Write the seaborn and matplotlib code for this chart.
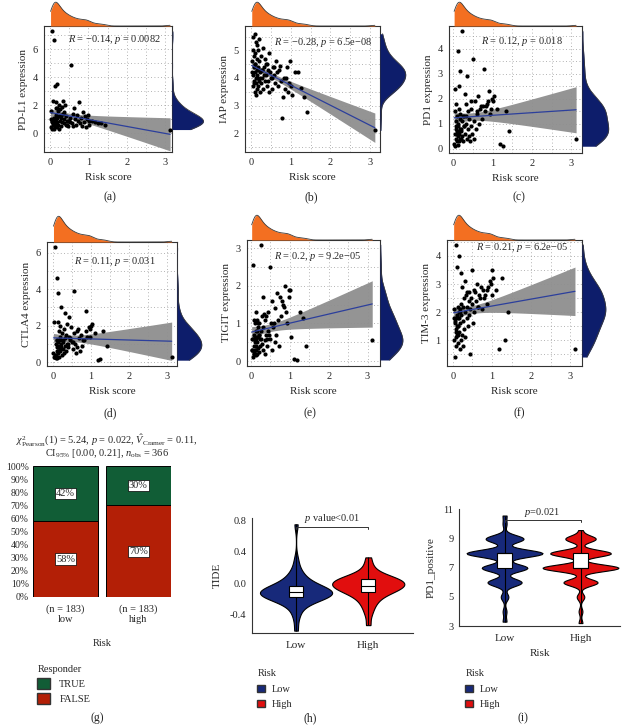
import numpy as np
import pandas as pd
import matplotlib
matplotlib.use("Agg")
import matplotlib.pyplot as plt
from matplotlib.patches import Patch
from matplotlib.ticker import MultipleLocator
import seaborn as sns

# ---- data ----
risk_score = [0.02, 0.03, 0.04, 0.05, 0.05, 0.06, 0.07, 0.07, 0.08, 0.08,
              0.09, 0.09, 0.10, 0.10, 0.11, 0.11, 0.12, 0.12, 0.13, 0.13,
              0.14, 0.14, 0.15, 0.15, 0.16, 0.16, 0.17, 0.18, 0.18, 0.19,
              0.20, 0.20, 0.21, 0.22, 0.23, 0.24, 0.25, 0.26, 0.27, 0.28,
              0.29, 0.30, 0.31, 0.32, 0.33, 0.35, 0.36, 0.37, 0.38, 0.40,
              0.41, 0.42, 0.44, 0.45, 0.46, 0.48, 0.50, 0.52, 0.53, 0.55,
              0.57, 0.59, 0.61, 0.63, 0.65, 0.67, 0.70, 0.72, 0.75, 0.78,
              0.80, 0.83, 0.86, 0.88, 0.91, 0.94, 0.97, 0.99, 1.01, 1.03,
              1.10, 1.18, 1.25, 1.33, 1.42, 3.12]

pdl1 = [1.0, 0.4, 1.6, 0.9, 0.3, 0.8, 7.3, 1.0, 0.7, 0.6,
        0.8, 2.3, 0.8, 6.7, 0.9, 0.3, 1.1, 0.6, 0.7, 0.5,
        3.4, 1.0, 0.5, 2.2, 1.3, 0.9, 1.8, 0.4, 1.8, 1.1,
        0.8, 3.5, 1.6, 0.6, 2.0, 1.2, 0.3, 1.7, 0.9, 1.3,
        1.1, 0.5, 1.9, 0.8, 1.4, 2.3, 0.7, 1.0, 1.5, 2.0,
        1.2, 0.6, 0.6, 0.9, 0.9, 0.5, 0.9, 0.8, 1.1, 4.9,
        0.7, 1.4, 0.5, 1.8, 1.0, 0.6, 1.3, 0.9, 2.2, 0.7,
        1.1, 0.5, 1.5, 0.8, 1.2, 0.4, 1.0, 1.3, 0.6, 0.9,
        0.9, 0.8, 0.7, 0.75, 0.6, 0.25]

iap = [4.6, 4.2, 5.5, 4.1, 3.7, 5.0, 4.4, 3.8, 4.8, 3.9,
       5.6, 3.5, 4.2, 4.9, 4.5, 4.5, 3.8, 5.3, 4.0, 3.4,
       4.7, 3.6, 5.2, 4.3, 4.0, 4.1, 3.7, 5.0, 4.4, 4.3,
       4.6, 3.9, 5.4, 3.5, 4.2, 4.0, 4.8, 3.8, 4.3, 4.3,
       4.0, 5.1, 3.6, 4.4, 4.1, 3.9, 4.7, 4.5, 4.1, 3.7,
       4.5, 4.3, 3.9, 4.9, 3.5, 4.2, 4.0, 4.0, 3.6, 4.4,
       4.4, 4.1, 3.8, 4.6, 4.2, 3.7, 4.3, 4.45, 3.9, 2.55,
       3.3, 4.0, 3.6, 4.0, 4.4, 3.5, 3.8, 4.6, 3.7, 3.4,
       4.2, 4.2, 3.65, 3.3, 2.75, 2.1]

pd1 = [0.2, 1.5, 0.6, 2.4, 0.1, 1.1, 1.8, 0.4, 0.8, 0.9,
       0.3, 0.6, 0.7, 1.3, 0.15, 1.0, 0.65, 0.5, 3.9, 0.9,
       1.6, 0.3, 2.5, 0.6, 1.2, 0.4, 3.1, 0.8, 1.4, 0.4,
       0.8, 0.7, 1.1, 4.7, 0.5, 1.3, 0.3, 0.9, 0.9, 1.3,
       0.6, 2.2, 1.3, 1.0, 1.8, 0.4, 2.9, 0.8, 1.5, 0.5,
       1.2, 0.3, 1.9, 0.9, 1.6, 0.6, 3.6, 1.1, 0.4, 1.9,
       0.8, 1.4, 1.5, 2.1, 1.0, 1.6, 1.7, 1.2, 1.7, 3.2,
       1.5, 1.7, 1.8, 1.9, 2.3, 1.4, 1.6, 2.0, 1.9, 2.1,
       1.6, 0.2, 0.1, 1.5, 0.7, 0.4]

ctla4 = [0.5, 0.3, 2.2, 0.3, 0.4, 0.3, 6.3, 0.3, 0.2, 0.3,
         1.0, 0.4, 4.6, 1.2, 0.6, 1.2, 0.8, 0.2, 0.6, 0.8,
         2.2, 0.5, 1.1, 3.8, 0.9, 1.7, 0.3, 0.7, 1.2, 0.6,
         1.4, 2.0, 0.8, 1.0, 3.0, 0.4, 1.6, 0.7, 1.2, 1.1,
         0.5, 1.8, 0.9, 2.7, 1.3, 0.6, 1.5, 1.0, 2.1, 1.0,
         0.8, 1.4, 2.5, 1.3, 1.2, 1.9, 1.1, 1.1, 0.7, 1.6,
         3.9, 1.0, 0.5, 1.7, 0.8, 1.8, 1.3, 0.6, 1.5, 0.9,
         1.2, 1.2, 2.8, 1.7, 1.4, 1.9, 1.8, 1.4, 2.0, 2.1,
         1.6, 0.1, 0.15, 1.7, 0.9, 0.3]

tigit = [0.3, 0.3, 0.6, 2.55, 0.1, 0.6, 0.4, 0.2, 0.2, 0.25,
         0.7, 1.1, 0.3, 1.0, 0.5, 0.65, 0.15, 0.3, 0.8, 0.4,
         1.3, 0.6, 0.8, 0.2, 1.1, 0.5, 0.65, 0.9, 1.0, 0.35,
         1.0, 0.7, 0.7, 0.25, 0.4, 0.6, 3.1, 0.8, 0.6, 0.45,
         1.2, 0.3, 1.7, 0.9, 1.25, 0.55, 1.1, 0.2, 1.2, 0.7,
         0.6, 0.4, 1.3, 0.8, 0.7, 0.6, 2.5, 1.0, 0.3, 1.6,
         0.9, 1.0, 0.5, 1.4, 0.7, 1.8, 1.1, 0.4, 1.7, 1.2,
         1.6, 1.5, 1.45, 2.0, 1.3, 1.0, 1.7, 1.9, 1.9, 0.65,
         0.05, 0.03, 1.3, 1.15, 0.4, 0.55]

tim3 = [2.1, 1.0, 1.8, 0.4, 1.7, 1.6, 0.8, 4.4, 1.4, 1.3,
        1.1, 1.8, 1.9, 1.2, 3.6, 1.5, 2.2, 0.9, 1.5, 1.2,
        1.5, 1.8, 2.0, 4.0, 1.3, 1.8, 0.7, 2.0, 1.6, 2.1,
        1.0, 3.4, 1.9, 2.3, 1.2, 2.9, 1.7, 2.2, 0.8, 2.5,
        1.4, 3.1, 2.0, 1.1, 2.6, 1.8, 2.7, 2.2, 1.5, 2.4,
        1.9, 2.7, 0.5, 2.1, 2.5, 3.5, 2.3, 1.6, 2.8, 2.0,
        2.7, 2.4, 3.0, 2.2, 2.2, 2.6, 2.5, 2.9, 2.1, 2.8,
        2.5, 2.6, 2.3, 2.8, 2.9, 3.1, 3.0, 3.5, 2.6, 3.2,
        2.8, 0.7, 3.2, 1.0, 2.0, 0.7]

stat_labels = [r"$R$ = −0.14, $p$ = 0.0082", r"$R$ = −0.28, $p$ = 6.5e−08",
               r"$R$ = 0.12, $p$ = 0.018", r"$R$ = 0.11, $p$ = 0.031",
               r"$R$ = 0.2, $p$ = 9.2e−05", r"$R$ = 0.21, $p$ = 6.2e−05"]

# responder stacked bars
risk_groups = ["low", "high"]
group_n = [183, 183]
true_pct = [42, 30]
false_pct = [58, 70]

# TIDE violins
tide_low = [-0.60, -0.44, -0.36, -0.30, -0.26, -0.23, -0.21, -0.20, -0.19, -0.18,
            -0.17, -0.16, -0.15, -0.15, -0.14, -0.14, -0.13, -0.13, -0.12, -0.12,
            -0.11, -0.11, -0.10, -0.10, -0.09, -0.08, -0.07, -0.06, -0.05, -0.04,
            -0.03, -0.01, 0.01, 0.03, 0.06, 0.09, 0.13, 0.18, 0.30, 0.75]
tide_high = [-0.53, -0.40, -0.33, -0.28, -0.24, -0.21, -0.18, -0.16, -0.14, -0.12,
             -0.11, -0.10, -0.09, -0.08, -0.07, -0.06, -0.05, -0.04, -0.04, -0.03,
             -0.03, -0.02, -0.01, 0.00, 0.01, 0.02, 0.03, 0.03, 0.04, 0.05,
             0.05, 0.06, 0.07, 0.08, 0.09, 0.11, 0.14, 0.18, 0.24, 0.33]

# PD1_positive violins (value levels and counts)
pd1pos_levels = [3.3, 4, 5, 6, 7, 8, 9, 10, 10.6]
pd1pos_low_counts = [1, 1, 2, 9, 12, 20, 10, 1, 1]
pd1pos_high_levels = [3.2, 4, 5, 6, 7, 8, 9, 9.6]
pd1pos_high_counts = [1, 1, 2, 9, 20, 16, 8, 1]

orange = "#f36f21"
navy = "#0d1d6b"
fit_blue = "#2c3f9c"
green = "#115d36"
red_g = "#b31f06"
v_navy = "#17297a"
v_red = "#e10e0e"

W, H = 626, 726


def px_box(l, t, r, b):
    return [l / W, 1 - b / H, (r - l) / W, (b - t) / H]


sns.set_style("white")
plt.rcParams["font.family"] = ["Liberation Serif", "DejaVu Serif"]
plt.rcParams["mathtext.fontset"] = "custom"
plt.rcParams["mathtext.rm"] = "Liberation Serif"
plt.rcParams["mathtext.it"] = "Liberation Serif:italic"
plt.rcParams["axes.unicode_minus"] = False

fig = plt.figure(figsize=(6.26, 7.26), dpi=100)


def fig_text(x, y, s, **kw):
    fig.text(x / W, 1 - y / H, s, ha="center", va="center", **kw)


def scatter_panel(yvals, ylabel, stat, rect, marg_right, marg_top, xlim, ylim,
                  ystep, text_xy):
    l, t, r, b = rect
    x = np.array(risk_score)
    y = np.array(yvals)
    ax = fig.add_axes(px_box(l, t, r, b))
    ax.xaxis.set_major_locator(MultipleLocator(1))
    ax.xaxis.set_minor_locator(MultipleLocator(0.5))
    ax.yaxis.set_major_locator(MultipleLocator(ystep))
    ax.yaxis.set_minor_locator(MultipleLocator(ystep / 2))
    ax.grid(which="both", linestyle=(0, (1, 3)), color="#9a9a9a", linewidth=0.6)
    ax.set_axisbelow(True)

    # linear fit with confidence band
    slope, icpt = np.polyfit(x, y, 1)
    xs = np.linspace(x.min(), x.max(), 200)
    yhat = icpt + slope * xs
    resid = y - (icpt + slope * x)
    n = len(x)
    s = np.sqrt((resid ** 2).sum() / (n - 2))
    sxx = ((x - x.mean()) ** 2).sum()
    se = s * np.sqrt(1 / n + (xs - x.mean()) ** 2 / sxx)
    ax.fill_between(xs, yhat - 1.6 * se, yhat + 1.6 * se, color="#8e8e8e",
                    alpha=0.95, linewidth=0, zorder=2)
    sns.scatterplot(x=x, y=y, ax=ax, s=9, color="black", linewidth=0, zorder=3)
    sns.lineplot(x=xs, y=yhat, ax=ax, color=fit_blue, linewidth=0.9, zorder=4)

    ax.set_xlim(xlim)
    ax.set_ylim(ylim)
    for sp in ax.spines.values():
        sp.set_color("#333333")
        sp.set_linewidth(0.8)
    ax.tick_params(which="major", length=2.5, width=0.6, color="#333333",
                   labelsize=7.5, pad=2)
    ax.tick_params(which="minor", length=0)
    ax.set_xlabel("Risk score", fontsize=8, labelpad=4)
    ax.set_ylabel(ylabel, fontsize=8, labelpad=3)
    ax.text(text_xy[0], text_xy[1], stat, transform=ax.transAxes, ha="center",
            va="center", fontsize=7.5, zorder=5)

    # marginal densities
    axt = fig.add_axes(px_box(l, marg_top, r, t))
    sns.kdeplot(x=x, ax=axt, fill=True, color=orange, alpha=1, linewidth=0,
                cut=0, bw_adjust=0.55)
    sns.kdeplot(x=x, ax=axt, color="#3a3a3a", linewidth=0.6, cut=0, bw_adjust=0.55)
    axt.set_xlim(xlim)
    axt.set_ylim(bottom=0)
    axt.axis("off")

    axr = fig.add_axes(px_box(r, t, marg_right, b))
    sns.kdeplot(y=y, ax=axr, fill=True, color=navy, alpha=1, linewidth=0, cut=0)
    sns.kdeplot(y=y, ax=axr, color="#3a3a3a", linewidth=0.6, cut=0)
    axr.set_ylim(ylim)
    axr.set_xlim(left=0)
    axr.axis("off")


scatter_panel(pdl1, "PD-L1 expression", stat_labels[0], (44, 26, 172, 152), 205, 1,
              (-0.15, 3.17), (-1.36, 7.68), 2, (0.55, 0.89))
scatter_panel(iap, "IAP expression", stat_labels[1], (245, 26, 380, 152), 407, 1,
              (-0.15, 3.25), (1.32, 5.88), 1, (0.58, 0.87))
scatter_panel(pd1, "PD1 expression", stat_labels[2], (449, 26, 582, 153), 610, 1,
              (-0.11, 3.27), (-0.17, 4.9), 1, (0.55, 0.88))
scatter_panel(ctla4, "CTLA4 expression", stat_labels[3], (47, 242, 177, 366), 203, 215,
              (-0.15, 3.26), (-0.22, 6.6), 2, (0.52, 0.84))
scatter_panel(tigit, "TIGIT expression", stat_labels[4], (247, 240, 380, 366), 404, 214,
              (-0.1, 3.32), (-0.13, 3.22), 1, (0.53, 0.87))
scatter_panel(tim3, "TIM-3 expression", stat_labels[5], (447, 240, 582, 366), 607, 214,
              (-0.15, 3.3), (0.08, 4.57), 1, (0.56, 0.94))

for letter, xp, yp in [("(a)", 110, 197), ("(b)", 311, 197), ("(c)", 519, 197),
                       ("(d)", 110, 413), ("(e)", 310, 413), ("(f)", 519, 413),
                       ("(g)", 97, 718), ("(h)", 310, 718), ("(i)", 523, 718)]:
    fig_text(xp, yp, letter, fontsize=8.5)

# ---- (g) responder stacked bars ----
ax_g = fig.add_axes(px_box(33, 466, 171, 597))
total_pct = np.add(true_pct, false_pct)
sns.barplot(x=risk_groups, y=total_pct, color=green, saturation=1, width=0.9,
            edgecolor="black", linewidth=0.7, ax=ax_g)
sns.barplot(x=risk_groups, y=false_pct, color=red_g, saturation=1, width=0.9,
            edgecolor="black", linewidth=0.7, ax=ax_g)
lbl_box = dict(facecolor="white", edgecolor="black", linewidth=0.5, pad=0.8)
for i, (tp, fp) in enumerate(zip(true_pct, false_pct)):
    ax_g.text(i, fp / 2, f"{fp}%", ha="center", va="center", fontsize=7.5, bbox=lbl_box)
    ax_g.text(i, fp + tp / 2, f"{tp}%", ha="center", va="center", fontsize=7.5, bbox=lbl_box)
ax_g.set_xlim(-0.45, 1.45)
ax_g.set_ylim(0, 100)
ax_g.set_yticks(range(0, 101, 10))
ax_g.set_yticklabels([f"{v}%" for v in range(0, 101, 10)])
ax_g.set_xticks([0, 1])
ax_g.set_xticklabels([f"(n = {n})\n{g}" for n, g in zip(group_n, risk_groups)])
ax_g.tick_params(axis="y", length=2, width=0.6, color="#333333", labelsize=7, pad=1)
ax_g.tick_params(axis="x", length=0, labelsize=7.5, pad=5)
for sp in ax_g.spines.values():
    sp.set_visible(False)
ax_g.set_xlabel("Risk", fontsize=7.5, labelpad=11)
ax_g.set_ylabel("")
fig_text(107, 440, r"$\chi^2_{\mathrm{Pearson}}(1)$ = 5.24, $p$ = 0.022, "
         r"$\hat{V}_{\mathrm{Cramer}}$ = 0.11,", fontsize=7.5)
fig_text(107, 453, r"CI$_{95\%}$ [0.00, 0.21], $n_{\mathrm{obs}}$ = 366", fontsize=7.5)

fig.legend(handles=[Patch(facecolor=green, edgecolor="#333333", label="TRUE"),
                    Patch(facecolor=red_g, edgecolor="#333333", label="FALSE")],
           title="Responder", loc="upper left", bbox_to_anchor=(28 / W, 1 - 656 / H),
           frameon=False, fontsize=7.5, title_fontsize=7.5, handlelength=1.2,
           handleheight=1.3, labelspacing=0.35, handletextpad=0.9,
           alignment="left")

# ---- (h) TIDE ----
tide_df = pd.DataFrame({"Risk": ["Low"] * len(tide_low) + ["High"] * len(tide_high),
                        "TIDE": tide_low + tide_high})
pal = {"Low": v_navy, "High": v_red}
ax_h = fig.add_axes(px_box(252, 518, 413, 633))
sns.violinplot(data=tide_df, x="Risk", y="TIDE", hue="Risk", order=["Low", "High"],
               palette=pal, cut=0, inner=None, density_norm="width", width=1.0,
               linewidth=0.8, linecolor="black", saturation=1, bw_adjust=0.8,
               legend=False, ax=ax_h)
sns.boxplot(data=tide_df, x="Risk", y="TIDE", order=["Low", "High"], width=0.2,
            whis=(0, 100), showcaps=False, showfliers=False, color="white",
            linecolor="black", linewidth=0.8, saturation=1, ax=ax_h)
ax_h.set_xlim(-0.61, 1.62)
ax_h.set_ylim(-0.63, 0.83)
ax_h.set_yticks([-0.4, 0.0, 0.4, 0.8])
ax_h.set_yticklabels(["-0.4", "0.0", "0.4", "0.8"])
ax_h.plot([0, 0, 1, 1], [0.69, 0.71, 0.71, 0.69], color="#333333", linewidth=0.7,
          clip_on=False)
ax_h.text(0.5, 0.74, r"$p$ value<0.01", ha="center", va="bottom", fontsize=7.5)
ax_h.set_xlabel("")
ax_h.set_ylabel("TIDE", fontsize=8, labelpad=6)
sns.despine(ax=ax_h)
for sp in ["left", "bottom"]:
    ax_h.spines[sp].set_color("#333333")
    ax_h.spines[sp].set_linewidth(0.8)
ax_h.tick_params(length=2, width=0.6, color="#333333", labelsize=7.5, pad=2)
ax_h.tick_params(axis="x", labelsize=8, pad=4)

fig.legend(handles=[Patch(facecolor=v_navy, edgecolor="#333333", label="Low"),
                    Patch(facecolor=v_red, edgecolor="#333333", label="High")],
           title="Risk", loc="upper left", bbox_to_anchor=(248 / W, 1 - 660 / H),
           frameon=False, fontsize=7.5, title_fontsize=7.5, handlelength=0.7,
           handleheight=0.7, labelspacing=0.6, handletextpad=0.7, alignment="left")

# ---- (i) PD1_positive ----
pd1pos_df = pd.DataFrame({
    "Risk": ["Low"] * sum(pd1pos_low_counts) + ["High"] * sum(pd1pos_high_counts),
    "PD1_positive": list(np.repeat(pd1pos_levels, pd1pos_low_counts))
    + list(np.repeat(pd1pos_high_levels, pd1pos_high_counts))})
ax_i = fig.add_axes(px_box(459, 509, 620, 626))
sns.violinplot(data=pd1pos_df, x="Risk", y="PD1_positive", hue="Risk",
               order=["Low", "High"], palette=pal, cut=0, inner=None,
               density_norm="width", width=1.0, linewidth=0.8, linecolor="black",
               saturation=1, bw_method=0.18, legend=False, ax=ax_i)
sns.boxplot(data=pd1pos_df, x="Risk", y="PD1_positive", order=["Low", "High"],
            width=0.19, whis=(0, 100), showcaps=False, showfliers=False,
            color="white", linecolor="black", linewidth=0.8, saturation=1, ax=ax_i)
ax_i.set_xlim(-0.6, 1.52)
ax_i.set_ylim(3, 11.05)
ax_i.set_yticks([3, 5, 7, 9, 11])
ax_i.plot([0, 0, 1, 1], [10.15, 10.3, 10.3, 10.15], color="#333333", linewidth=0.7,
          clip_on=False)
ax_i.text(0.5, 10.35, r"$p$=0.021", ha="center", va="bottom", fontsize=7.5)
ax_i.set_xlabel("Risk", fontsize=8, labelpad=4)
ax_i.set_ylabel("PD1_positive", fontsize=8, labelpad=6)
sns.despine(ax=ax_i)
for sp in ["left", "bottom"]:
    ax_i.spines[sp].set_color("#333333")
    ax_i.spines[sp].set_linewidth(0.8)
ax_i.tick_params(length=2, width=0.6, color="#333333", labelsize=7.5, pad=2)
ax_i.tick_params(axis="x", labelsize=8, pad=4)

fig.legend(handles=[Patch(facecolor=v_navy, edgecolor="#333333", label="Low"),
                    Patch(facecolor=v_red, edgecolor="#333333", label="High")],
           title="Risk", loc="upper left", bbox_to_anchor=(456 / W, 1 - 660 / H),
           frameon=False, fontsize=7.5, title_fontsize=7.5, handlelength=0.7,
           handleheight=0.7, labelspacing=0.6, handletextpad=0.7, alignment="left")

fig.savefig("out.png", dpi=100)
